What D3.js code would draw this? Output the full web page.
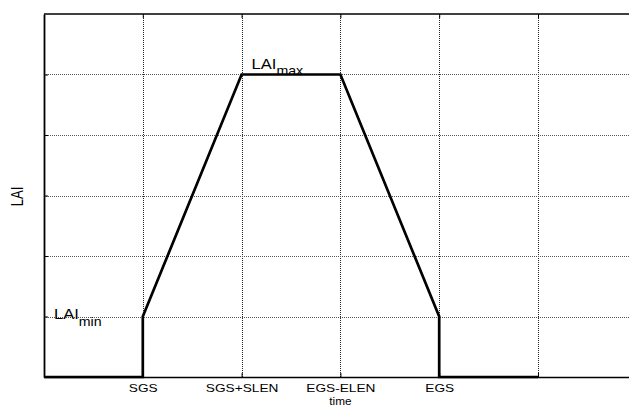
<!DOCTYPE html>
<html>
<head>
<meta charset="utf-8">
<script src="https://cdn.jsdelivr.net/npm/d3@7"></script>
<style>
  html, body { margin: 0; padding: 0; background: #fff; }
  svg { display: block; }
  text { font-family: "Liberation Sans", Arial, sans-serif; fill: #000; }
</style>
</head>
<body>
<svg id="chart" width="629" height="407"></svg>
<script>
// LAI development over the growing season (piecewise-linear profile)
const timePoints = [0, 1, 1, 2, 3, 4, 4, 5];
const laiValues  = [0, 0, 1, 5, 5, 1, 0, 0];

const xTickValues = [1, 2, 3, 4, 5];
const xTickLabels = ["SGS", "SGS+SLEN", "EGS-ELEN", "EGS", ""];
const yTickValues = [1, 2, 3, 4, 5];

const xDomain = [0, 6];
const yDomain = [0, 6];

const W = 629, H = 407;
const margin = { left: 44, top: 14, bottom: 30 };
const plotRight = margin.left + 6 * 98.8;
const stretch = 1.18;   // wide glyph style used for all labels

const svg = d3.select("#chart");
const x = d3.scaleLinear().domain(xDomain).range([margin.left, plotRight]);
const y = d3.scaleLinear().domain(yDomain).range([H - margin.bottom, margin.top]);

// dotted grid
const grid = svg.append("g");
grid.selectAll("line.gx").data(xTickValues).join("line")
  .attr("x1", d => Math.round(x(d)) + 0.5).attr("x2", d => Math.round(x(d)) + 0.5)
  .attr("y1", y(0)).attr("y2", y(6))
  .attr("stroke", "#222").attr("stroke-width", 1).attr("stroke-dasharray", "1,1");
grid.selectAll("line.gy").data(yTickValues).join("line")
  .attr("y1", d => Math.round(y(d)) + 0.5).attr("y2", d => Math.round(y(d)) + 0.5)
  .attr("x1", x(0)).attr("x2", x(6))
  .attr("stroke", "#555").attr("stroke-width", 1).attr("stroke-dasharray", "1,1");

// bottom axis with category-like tick labels
const xAxis = d3.axisBottom(x).tickValues(xTickValues)
  .tickFormat((d, i) => xTickLabels[i]).tickSizeInner(-4).tickSizeOuter(0).tickPadding(7);
const gx = svg.append("g").attr("transform", `translate(0,${y(0)})`).call(xAxis);
gx.select(".domain").attr("stroke-width", 1.4);
gx.selectAll("text")
  .attr("font-size", 11.6)
  .attr("font-family", "Liberation Sans, Arial, sans-serif")
  .attr("transform", `scale(${stretch},1)`);

// left axis (ticks only)
const yAxis = d3.axisLeft(y).tickValues(yTickValues).tickFormat("").tickSizeInner(-4).tickSizeOuter(0);
const gy = svg.append("g").attr("transform", `translate(${x(0)},0)`).call(yAxis);
gy.select(".domain").attr("stroke-width", 1.8);

// top frame with ticks
svg.append("line")
  .attr("x1", x(0)).attr("x2", x(6)).attr("y1", y(6)).attr("y2", y(6))
  .attr("stroke", "#000").attr("stroke-width", 1.4);
const topTicks = d3.axisTop(x).tickValues(xTickValues).tickFormat("").tickSizeInner(-4).tickSizeOuter(0);
const gt = svg.append("g").attr("transform", `translate(0,${y(6)})`).call(topTicks);
gt.select(".domain").remove();

// LAI curve
const pts = timePoints.map((t, i) => [t, laiValues[i]]);
svg.append("path")
  .datum(pts)
  .attr("fill", "none").attr("stroke", "#000").attr("stroke-width", 2.7)
  .attr("stroke-linejoin", "miter")
  .attr("d", d3.line().x(d => x(d[0])).y(d => y(d[1])));

// LAI_min / LAI_max annotations
function subLabel(xp, yp, main, sub, dy) {
  const g = svg.append("g").attr("transform", `translate(${xp},${yp}) scale(${stretch},1)`);
  const t = g.append("text").attr("font-size", 14);
  t.append("tspan").text(main);
  t.append("tspan").attr("dy", dy).attr("font-size", 12).text(sub);
}
subLabel(x(0) + 10, y(1) + 2, "LAI", "min", 7);
subLabel(x(2) + 10, y(5) - 6, "LAI", "max", 6.5);

// axis titles
svg.append("g")
  .attr("transform", `translate(23,${y(3) + 1}) scale(1.25,1) rotate(-90)`)
  .append("text")
  .attr("text-anchor", "middle").attr("font-size", 13).text("LAI");
svg.append("g")
  .attr("transform", `translate(${x(3)},404.5) scale(${stretch},1)`)
  .append("text")
  .attr("text-anchor", "middle").attr("font-size", 10).text("time");
</script>
</body>
</html>
